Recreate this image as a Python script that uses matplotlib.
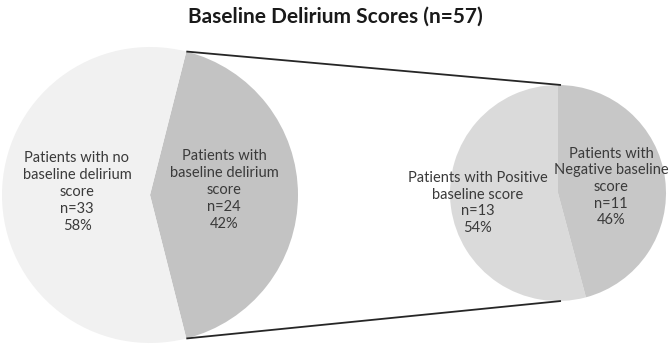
import numpy as np
import matplotlib
matplotlib.use("Agg")
import matplotlib.pyplot as plt

plt.rcParams['font.family'] = ['Lato', 'DejaVu Sans']

title = "Baseline Delirium Scores (n=57)"

# main pie: with / without baseline score
main_labels = ["Patients with\nbaseline delirium\nscore", "Patients with no\nbaseline delirium\nscore"]
main_counts = [24, 33]
main_pct = [42, 58]
main_colors = ["#c3c3c3", "#f1f1f1"]

# second pie: breakdown of the 24 with a score
sub_labels = ["Patients with Positive\nbaseline score", "Patients with\nNegative baseline\nscore"]
sub_counts = [13, 11]
sub_pct = [54, 46]
sub_colors = ["#dadada", "#c7c7c7"]

W, H = 670, 345
fig = plt.figure(figsize=(W / 100, H / 100), dpi=100)
ax = fig.add_axes([0, 0, 1, 1])

# centres / radii in pixel space (y up)
c1, r1 = (150, 150), 148
c2, r2 = (558, 152), 108

# wedge for "with score" centred on 0 deg (facing the second pie)
span = 360 * main_counts[0] / sum(main_counts)
start1 = -span / 2
ax.pie(main_counts, center=c1, radius=r1, startangle=start1,
       colors=main_colors, wedgeprops=dict(linewidth=0))
ax.pie(sub_counts, center=c2, radius=r2, startangle=90,
       colors=sub_colors, wedgeprops=dict(linewidth=0))

# connector lines from the split wedge to top/bottom of second pie
for ang, sgn in [(np.deg2rad(span / 2), 1), (np.deg2rad(-span / 2), -1)]:
    x0 = c1[0] + r1 * np.cos(ang)
    y0 = c1[1] + r1 * np.sin(ang)
    ax.plot([x0, c2[0] + 3], [y0, c2[1] + sgn * r2], color="#262626", lw=1.3,
            solid_capstyle="butt")

txt = dict(ha="center", va="center", multialignment="center", fontsize=10.5,
           color="#3a3a3a", linespacing=1.25)

# label offsets from each pie centre (pixels)
main_offsets = [(74, 5), (-73, 3)]
sub_offsets = [(-80, -10), (53, 6)]
for lab, n, p, (dx, dy) in zip(main_labels, main_counts, main_pct, main_offsets):
    ax.text(c1[0] + dx, c1[1] + dy, f"{lab}\nn={n}\n{p}%", **txt)
for lab, n, p, (dx, dy) in zip(sub_labels, sub_counts, sub_pct, sub_offsets):
    ax.text(c2[0] + dx, c2[1] + dy, f"{lab}\nn={n}\n{p}%", **txt)

ax.text(W / 2, H - 17, title, ha="center", va="center", fontsize=15,
        fontweight="bold", color="#1a1a1a")

ax.set_xlim(0, W)
ax.set_ylim(0, H)
ax.set_aspect("equal")
ax.axis("off")

fig.savefig("out.png", dpi=100)
